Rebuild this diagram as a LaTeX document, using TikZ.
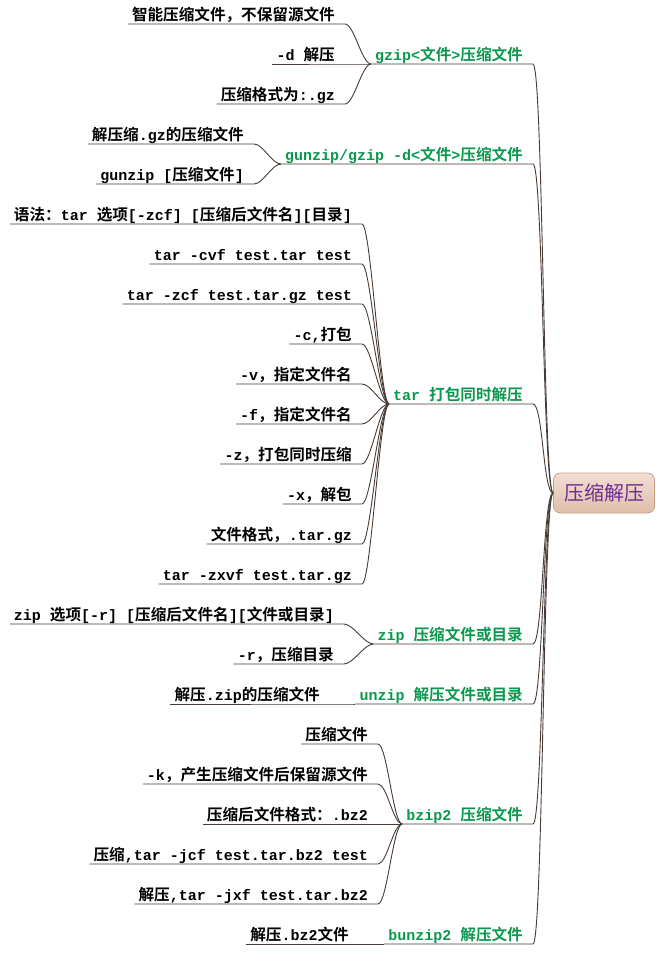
\documentclass[tikz,border=0pt]{standalone}
\usepackage{fontspec}
\setmainfont{Liberation Mono}
\newfontfamily\latf{Liberation Mono Bold}
\newfontfamily\cjkf{Noto Sans CJK SC Bold}[Scale=1.04]
\newfontfamily\rootf{Noto Sans CJK SC}
% automatic switch between Latin (mono) and CJK fonts
\XeTeXinterchartokenstate=1
\newXeTeXintercharclass\CJKcls
\newcount\cjkc
\def\setcjkrange#1#2{\cjkc=#1
  \loop\XeTeXcharclass\cjkc=\CJKcls \advance\cjkc by 1 \ifnum\cjkc<#2 \repeat}
\setcjkrange{"3000}{"3040}
\setcjkrange{"4E00}{"A000}
\setcjkrange{"FF00}{"FFF0}
\XeTeXinterchartoks 0 \CJKcls = {\cjkf}
\XeTeXinterchartoks 4095 \CJKcls = {\cjkf}
\XeTeXinterchartoks \CJKcls 0 = {\latf}
\XeTeXinterchartoks \CJKcls 4095 = {\latf}
\newcommand\rootfontsel{\fontsize{20}{23}\selectfont\XeTeXinterchartokenstate=0\relax\rootf}
\newcommand\leaffontsel{\fontsize{15}{18}\selectfont\latf}
\definecolor{lncol}{RGB}{72,58,52}
\definecolor{brgreen}{RGB}{10,152,78}
\definecolor{rootpurple}{RGB}{110,45,150}
\definecolor{roottop}{RGB}{242,222,210}
\definecolor{rootbot}{RGB}{224,190,170}
\definecolor{rootdraw}{RGB}{200,160,138}
\begin{document}
\begin{tikzpicture}[x=1pt,y=-1pt,
  ln/.style={draw=lncol,line width=0.9pt},
  leaf/.style={anchor=south east,inner xsep=4pt,inner ysep=3.5pt,text depth=0pt,
    font=\leaffontsel,text=black,
    execute at end node=\hspace{6pt}},
  br/.style={leaf,text=brgreen},
  rootbox/.style={rounded corners=7pt,minimum width=101pt,minimum height=40pt,
    draw=rootdraw,line width=0.8pt,top color=roottop,bottom color=rootbot,
    text=rootpurple,font=\rootfontsel}]
\useasboundingbox (0,0) rectangle (656,956);
\node[rootbox] (root) at (604,493) {压缩解压};
% branches
\node[br] (b1) at (533,64) {gzip<文件>压缩文件};
\node[br] (b2) at (533,164) {gunzip/gzip -d<文件>压缩文件};
\node[br] (b3) at (533,404) {tar 打包同时解压};
\node[br] (b4) at (533,644) {zip 压缩文件或目录};
\node[br] (b5) at (533,704) {unzip 解压文件或目录};
\node[br] (b6) at (533,824) {bzip2 压缩文件};
\node[br] (b7) at (533,944) {bunzip2 解压文件};
% gzip children
\node[leaf] (c11) at (345,24) {智能压缩文件，不保留源文件};
\node[leaf] (c12) at (345,64) {-d 解压};
\node[leaf] (c13) at (345,104) {压缩格式为:.gz};
% gunzip children
\node[leaf] (c21) at (254,144) {解压缩.gz的压缩文件};
\node[leaf] (c22) at (254,184) {gunzip [压缩文件]};
% tar children
\node[leaf] (c31) at (362,224) {语法：tar 选项[-zcf] [压缩后文件名][目录]};
\node[leaf] (c32) at (362,264) {tar -cvf test.tar test};
\node[leaf] (c33) at (362,304) {tar -zcf test.tar.gz test};
\node[leaf] (c34) at (362,344) {-c,打包};
\node[leaf] (c35) at (362,384) {-v，指定文件名};
\node[leaf] (c36) at (362,424) {-f，指定文件名};
\node[leaf] (c37) at (362,464) {-z，打包同时压缩};
\node[leaf] (c38) at (362,504) {-x，解包};
\node[leaf] (c39) at (362,544) {文件格式，.tar.gz};
\node[leaf] (c310) at (362,584) {tar -zxvf test.tar.gz};
% zip children
\node[leaf] (c41) at (344,624) {zip 选项[-r] [压缩后文件名][文件或目录]};
\node[leaf] (c42) at (344,664) {-r，压缩目录};
% unzip child
\node[leaf] (c51) at (330,704) {解压.zip的压缩文件};
% bzip2 children
\node[leaf] (c61) at (378,744) {压缩文件};
\node[leaf] (c62) at (378,784) {-k，产生压缩文件后保留源文件};
\node[leaf] (c63) at (378,824) {压缩后文件格式：.bz2};
\node[leaf] (c64) at (378,864) {压缩,tar -jcf test.tar.bz2 test};
\node[leaf] (c65) at (378,904) {解压,tar -jxf test.tar.bz2};
% bunzip2 child
\node[leaf] (c71) at (359,944) {解压.bz2文件};
% connectors
\foreach \b in {b1,b2,b3,b4,b5,b6,b7}
  \draw[ln] (\b.south west) -- (\b.south east) .. controls +(10,0) and +(-10,0) .. (root.west);
\foreach \c/\b in {c11/b1,c12/b1,c13/b1,c21/b2,c22/b2,
  c31/b3,c32/b3,c33/b3,c34/b3,c35/b3,c36/b3,c37/b3,c38/b3,c39/b3,c310/b3,
  c41/b4,c42/b4,c51/b5,c61/b6,c62/b6,c63/b6,c64/b6,c65/b6,c71/b7}
  \draw[ln] (\c.south west) -- (\c.south east) .. controls +(9,0) and +(-9,0) .. (\b.south west);
\end{tikzpicture}
\end{document}
